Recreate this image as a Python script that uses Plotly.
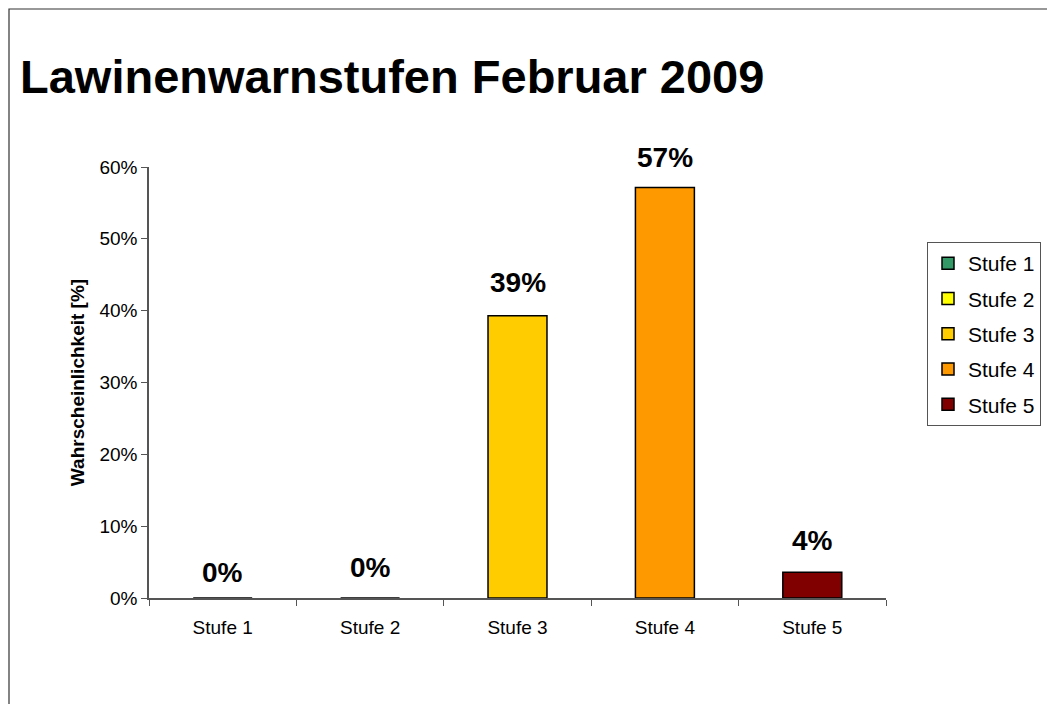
import plotly.graph_objects as go

categories = ["Stufe 1", "Stufe 2", "Stufe 3", "Stufe 4", "Stufe 5"]
values = [0.0, 0.0, 11/28, 16/28, 1/28]
labels = ["0%", "0%", "39%", "57%", "4%"]
colors = ["#339966", "#FFFF00", "#FFCC00", "#FF9900", "#800000"]
yticks = [0, 0.1, 0.2, 0.3, 0.4, 0.5, 0.6]
yticklabels = ["0%", "10%", "20%", "30%", "40%", "50%", "60%"]

FONT = "Arial, Liberation Sans, sans-serif"
L, R, T, B = 149, 161, 167, 106
W, H = 1047, 704
PW, PH = W - L - R, H - T - B

def px_x(p):
    return (p - L) / PW

def px_y(p):
    return (H - B - p) / PH

fig = go.Figure()
for cat, val, col in zip(categories, values, colors):
    fig.add_trace(go.Bar(
        x=[cat], y=[val], name=cat, width=0.4, legendgroup=cat,
        marker=dict(color=col, line=dict(color="black", width=1.5)),
        hoverinfo="skip",
    ))

yshifts = [26, 31, 33, 30, 32]
for cat, val, lab, ys in zip(categories, values, labels, yshifts):
    fig.add_annotation(x=cat, y=val, text="<b>%s</b>" % lab, showarrow=False,
                       yanchor="middle", yshift=ys,
                       font=dict(family=FONT, size=28, color="black"))

fig.add_annotation(xref="paper", yref="paper", x=px_x(18), y=px_y(77),
                   xanchor="left", yanchor="middle",
                   text="<b>Lawinenwarnstufen Februar 2009</b>", showarrow=False,
                   font=dict(family=FONT, size=47, color="black"))

fig.add_shape(type="rect", xref="paper", yref="paper",
              x0=px_x(9), x1=px_x(1060), y0=px_y(715), y1=px_y(9),
              line=dict(color="#333333", width=1.2), fillcolor="rgba(0,0,0,0)")

fig.update_layout(
    width=W, height=H,
    margin=dict(l=L, r=R, t=T, b=B, autoexpand=False),
    paper_bgcolor="white", plot_bgcolor="white",
    barmode="overlay",
    font=dict(family=FONT, size=19, color="black"),
    showlegend=True,
    legend=dict(x=px_x(927), y=px_y(242), xanchor="left", yanchor="top",
                bordercolor="#555555", borderwidth=1, bgcolor="white",
                font=dict(size=21), traceorder="grouped", itemwidth=30,
                tracegroupgap=5),
)
fig.update_xaxes(
    categoryorder="array", categoryarray=categories,
    showline=True, linecolor="#555555", linewidth=1.5,
    ticks="outside", ticklen=6, tickcolor="#555555", tickson="boundaries",
    showgrid=False, zeroline=False, range=[-0.5, 4.5],
    tickfont=dict(size=19), ticklabelstandoff=11, layer="above traces",
)
fig.update_yaxes(
    range=[0, 0.6], tickvals=yticks, ticktext=yticklabels,
    showline=True, linecolor="#555555", linewidth=1.5,
    ticks="outside", ticklen=6, tickcolor="#555555",
    showgrid=False, zeroline=False, tickfont=dict(size=19),
    title=dict(text="<b>Wahrscheinlichkeit [%]</b>", font=dict(size=19), standoff=10),
)

fig.write_html("out.html", config={"responsive": False, "displayModeBar": False},
               post_script="document.body.style.margin='0';document.body.style.overflow='hidden';")
